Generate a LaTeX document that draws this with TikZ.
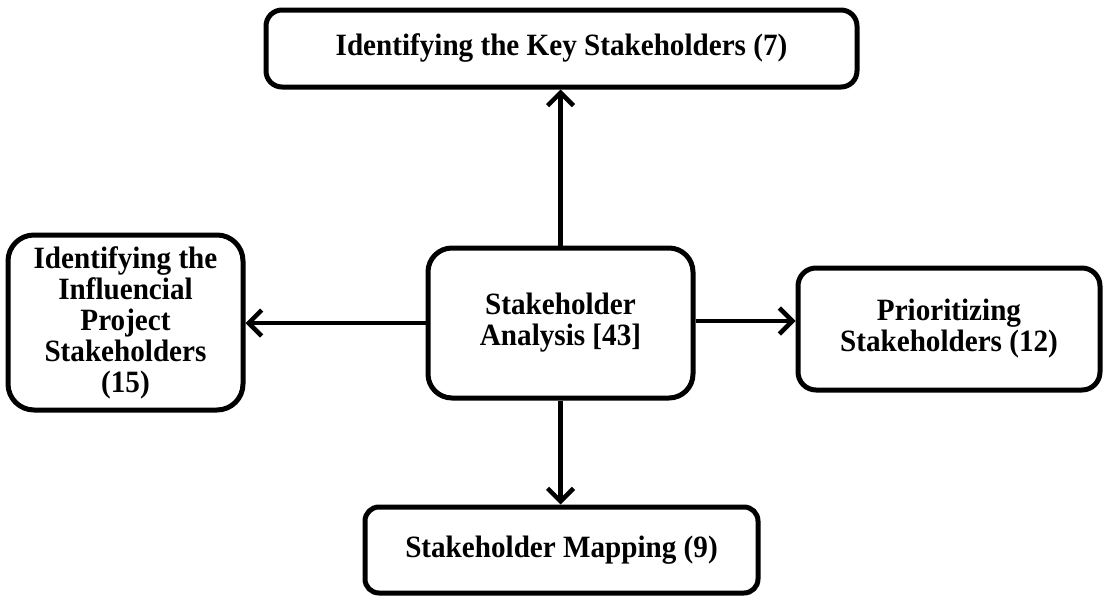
\documentclass[tikz,border=0pt]{standalone}
\usepackage{fontspec}
\setmainfont{Liberation Serif}[FakeStretch=0.94]
\usetikzlibrary{arrows.meta}
\begin{document}
\begin{tikzpicture}[x=1pt,y=-1pt,
  box/.style={draw=black, line width=5pt, rectangle, inner sep=0pt,
    align=center, font=\fontsize{31}{31}\selectfont\bfseries},
  link/.style={draw=black, line width=4.5pt,
    -{Straight Barb[length=13pt,width=26pt,line width=4.5pt]}}]
  \useasboundingbox (0,0) rectangle (1104,597);
  % central topic
  \node[box, rounded corners=24pt, minimum width=265pt, minimum height=150pt]
    (ctr) at (560.5,323) {Stakeholder\\Analysis [43]};
  % surrounding themes
  \node[box, rounded corners=16pt, minimum width=591pt, minimum height=77pt]
    (top) at (561.5,48.5) {Identifying the Key Stakeholders (7)};
  \node[box, rounded corners=26pt, minimum width=235pt, minimum height=175pt]
    (lft) at (125.5,322.5) {Identifying the\\Influencial\\Project\\Stakeholders\\(15)};
  \node[box, rounded corners=18pt, minimum width=302pt, minimum height=122pt]
    (rgt) at (949,329) {Prioritizing\\Stakeholders (12)};
  \node[box, rounded corners=14pt, minimum width=393pt, minimum height=86pt]
    (bot) at (561.5,550) {Stakeholder Mapping (9)};
  % connectors
  \draw[link] (ctr.north) -- (ctr.north |- top.south);
  \draw[link] (ctr.west) -- (ctr.west -| lft.east);
  \draw[link] ([yshift=2pt]ctr.east) -- ([yshift=2pt]ctr.east -| rgt.west);
  \draw[link] (ctr.south) -- (ctr.south |- bot.north);
\end{tikzpicture}
\end{document}
